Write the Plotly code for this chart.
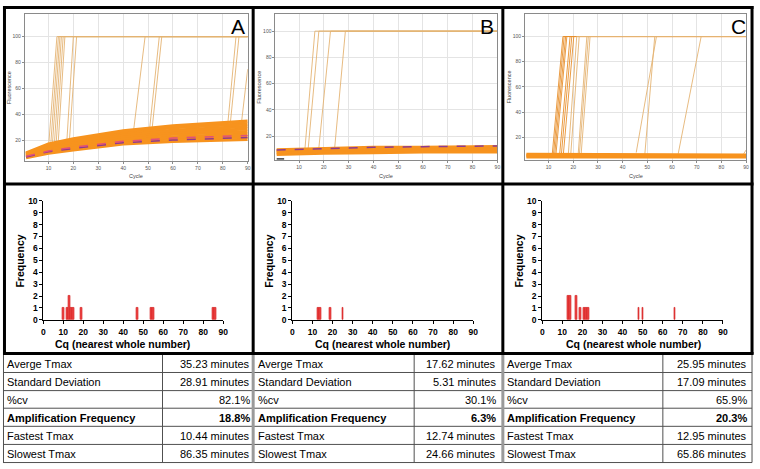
import plotly.graph_objects as go

W, H = 760, 469

# ---------------- data ----------------
cycles_band = [1, 10, 20, 40, 60, 90]

# Panel A: non-amplifying baseline curves (fluorescence at cycles_band)
A_band = [
    [7.0, 10.5, 13.0, 17.5, 19.5, 21.0],
    [7.5, 11.5, 14.5, 19.0, 21.5, 23.0],
    [8.0, 12.5, 15.5, 20.5, 23.0, 25.0],
    [8.5, 13.5, 17.0, 22.0, 25.0, 27.0],
    [9.0, 14.5, 18.0, 23.5, 26.5, 29.0],
    [9.5, 15.5, 19.5, 25.0, 28.0, 31.0],
    [10.0, 16.5, 20.5, 26.5, 30.0, 33.0],
    [10.5, 17.5, 21.5, 27.5, 31.5, 35.0],
]
A_band_dashed = [
    [7.5, 11.5, 14.0, 18.5, 20.5, 22.5],
    [8.0, 12.0, 15.0, 19.5, 22.0, 24.0],
]
A_amp_start = [10.0, 10.8, 11.5, 12.3, 13.0, 13.8, 17.3, 18.3, 44.0, 50.5, 51.5, 82.0, 83.0, 87.5]
A_amp_base = [14, 14, 15, 15, 15, 15, 17, 17, 25, 27, 27, 33, 33, 34]
A_amp_end = [13.4, 14.0, 14.6, 15.2, 15.9, 16.6, 20.0, 21.3, 48.8, 54.5, 55.5, 85.3, 86.5, 90.0]
A_amp_top = [100, 100, 100, 100, 100, 100, 100, 100, 100, 100, 100, 100, 100, 75]

# Panel B
B_band = [
    [6.0, 6.5, 7.0, 7.5, 8.0, 8.0],
    [7.0, 7.5, 8.0, 8.5, 9.0, 9.0],
    [8.0, 8.5, 9.0, 9.5, 10.0, 10.0],
    [9.0, 9.5, 10.0, 10.5, 11.0, 11.0],
    [9.5, 10.0, 10.5, 11.5, 11.5, 12.0],
]
B_band_dashed = [
    [9.5, 10.0, 10.5, 11.5, 12.0, 12.5],
]
B_amp_start = [12.4, 13.7, 18.0, 24.4]
B_amp_base = [10.5, 10.5, 11.0, 11.5]
B_amp_end = [16.4, 18.0, 22.7, 28.7]
B_amp_top = [100, 100, 100, 100]

# Panel C
C_band = [
    [4.5, 4.5, 4.5, 4.5, 4.5, 4.5],
    [5.5, 5.5, 5.5, 5.5, 5.5, 5.0],
    [6.5, 6.5, 6.5, 6.5, 6.5, 6.0],
]
C_band_dashed = []
C_amp_start = [11.5, 12.0, 12.5, 13.0, 14.5, 15.2, 16.0, 18.0, 19.0, 22.0, 22.5, 23.2, 49.0, 45.5, 62.5, 89.0]
C_amp_base = [7, 7, 7, 7, 7, 7, 7, 7, 7, 7, 7, 7, 7, 8, 7, 7]
C_amp_end = [15.8, 16.3, 16.9, 17.4, 18.7, 19.4, 20.2, 21.4, 22.4, 25.5, 26.1, 26.8, 53.0, 53.7, 71.8, 90.0]
C_amp_top = [100, 100, 100, 100, 100, 100, 100, 100, 100, 100, 100, 100, 100, 100, 100, 10]
C_amp_dark = [True, True, True, True, True, True, True, False, False, False, False, False, False, False, False, False]

# Histograms
A_cq = [10, 12, 13, 14, 15, 19, 47, 54, 55, 85, 86]
A_freq = [1, 1, 2, 1, 1, 1, 1, 1, 1, 1, 1]
B_cq = [13, 14, 19, 25]
B_freq = [1, 1, 1, 1]
C_cq = [13, 14, 17, 19, 21, 22, 23, 48, 50, 66]
C_freq = [2, 2, 2, 1, 1, 1, 1, 1, 1, 1]

hist_xticks = [0, 10, 20, 30, 40, 50, 60, 70, 80, 90]
hist_yticks = [0, 1, 2, 3, 4, 5, 6, 7, 8, 9, 10]
top_xticks = [10, 20, 30, 40, 50, 60, 70, 80, 90]
top_yticks = [20, 40, 60, 80, 100]

# Tables
row_labels = ["Averge Tmax", "Standard Deviation", "%cv", "Amplification Frequency",
              "Fastest Tmax", "Slowest Tmax"]
A_vals = ["35.23 minutes", "28.91 minutes", "82.1%", "18.8%", "10.44 minutes", "86.35 minutes"]
B_vals = ["17.62 minutes", "5.31 minutes", "30.1%", "6.3%", "12.74 minutes", "24.66 minutes"]
C_vals = ["25.95 minutes", "17.09 minutes", "65.9%", "20.3%", "12.95 minutes", "65.86 minutes"]
bold_row = 3
panel_letters = ["A", "B", "C"]

# ---------------- helpers ----------------
def PX(x):
    return x / W

def PY(y):
    return 1 - y / H

BAND = "#F7931E"
TAN = "#E4B373"
DARK_AMP = "#E8902C"
PURPLE = "#8E3A8E"
PINK = "#E0507A"
BAR = "#EE4B4B"
FONT = "Liberation Sans, Arial, sans-serif"

fig = go.Figure()

top_cfg = [
    dict(ax="", dom_x=(23, 248), dom_y=(9, 159), yr=(4.7, 117.5),
         band=A_band, dashed=A_band_dashed, dcol=[PURPLE, PINK],
         st=A_amp_start, bs=A_amp_base, en=A_amp_end, tp=A_amp_top, dark=None),
    dict(ax="2", dom_x=(276, 500), dom_y=(9, 158), yr=(2.1, 113.2),
         band=B_band, dashed=B_band_dashed, dcol=[PURPLE],
         st=B_amp_start, bs=B_amp_base, en=B_amp_end, tp=B_amp_top, dark=None),
    dict(ax="3", dom_x=(528, 751), dom_y=(9, 158), yr=(2.4, 118.0),
         band=C_band, dashed=C_band_dashed, dcol=[],
         st=C_amp_start, bs=C_amp_base, en=C_amp_end, tp=C_amp_top, dark=C_amp_dark),
]

layout_axes = {}
for i, c in enumerate(top_cfg):
    xa, ya = "x" + c["ax"], "y" + c["ax"]
    for k in range(len(c["st"])):
        xs = [c["st"][k], c["en"][k]]
        ys = [c["bs"][k], c["tp"][k]]
        if c["tp"][k] >= 100 and c["en"][k] < 90:
            xs.append(90)
            ys.append(100)
        col = TAN
        if c["dark"] is not None and c["dark"][k]:
            col = DARK_AMP
        fig.add_trace(go.Scatter(x=xs, y=ys, mode="lines", xaxis=xa, yaxis=ya,
                                 line=dict(color=col, width=0.9), hoverinfo="skip"))
    for row in c["band"]:
        fig.add_trace(go.Scatter(x=cycles_band, y=row, mode="lines", xaxis=xa, yaxis=ya,
                                 line=dict(color=BAND, width=3.2), hoverinfo="skip"))
    for j, row in enumerate(c["dashed"]):
        fig.add_trace(go.Scatter(x=cycles_band, y=row, mode="lines", xaxis=xa, yaxis=ya,
                                 line=dict(color=c["dcol"][j], width=1.5, dash="dash"),
                                 hoverinfo="skip"))
    axn = "xaxis" + c["ax"]
    ayn = "yaxis" + c["ax"]
    layout_axes[axn] = dict(
        domain=[PX(c["dom_x"][0]), PX(c["dom_x"][1])], range=[0.5, 90],
        anchor=ya, tickvals=top_xticks, showgrid=True, gridcolor="#E4E4E4", gridwidth=1,
        showline=True, linecolor="#8A8A8A", linewidth=1, mirror=True, zeroline=False,
        ticks="outside", ticklen=2, tickcolor="#8A8A8A",
        tickfont=dict(size=5, color="#555555", family=FONT),
    )
    layout_axes[ayn] = dict(
        domain=[PY(c["dom_y"][1]), PY(c["dom_y"][0])], range=list(c["yr"]),
        anchor=xa, tickvals=top_yticks, showgrid=True, gridcolor="#E4E4E4", gridwidth=1,
        showline=True, linecolor="#8A8A8A", linewidth=1, mirror=True, zeroline=False,
        ticks="outside", ticklen=2, tickcolor="#8A8A8A",
        tickfont=dict(size=5, color="#555555", family=FONT),
    )

# short dark line in B, bottom-left
fig.add_trace(go.Scatter(x=[1, 4], y=[2.6, 2.6], mode="lines", xaxis="x2", yaxis="y2",
                         line=dict(color="#222222", width=1.5), hoverinfo="skip"))

hist_cfg = [
    dict(ax="4", dom_x=(41.7, 223.3), cq=A_cq, fr=A_freq),
    dict(ax="5", dom_x=(293.0, 475.7), cq=B_cq, fr=B_freq),
    dict(ax="6", dom_x=(545.3, 727.7), cq=C_cq, fr=C_freq),
]
for c in hist_cfg:
    xa, ya = "x" + c["ax"], "y" + c["ax"]
    fig.add_trace(go.Bar(x=c["cq"], y=c["fr"], xaxis=xa, yaxis=ya, width=0.75,
                         marker=dict(color=BAR, line=dict(color="#D01818", width=0.6)),
                         hoverinfo="skip"))
    layout_axes["xaxis" + c["ax"]] = dict(
        domain=[PX(c["dom_x"][0]), PX(c["dom_x"][1])], range=[0, 90], anchor=ya,
        tickvals=hist_xticks, showgrid=False, zeroline=False, showline=True,
        linecolor="black", linewidth=1, ticks="outside", ticklen=3, tickwidth=1,
        tickcolor="black", ticklabelstandoff=1,
        tickfont=dict(size=8.5, color="black", family=FONT, weight="bold"),
    )
    layout_axes["yaxis" + c["ax"]] = dict(
        domain=[PY(321.7), PY(200)], range=[0, 10], anchor=xa,
        tickvals=hist_yticks, showgrid=False, zeroline=False, showline=True,
        linecolor="black", linewidth=1, ticks="outside", ticklen=3, tickwidth=1,
        tickcolor="black",
        tickfont=dict(size=8.5, color="black", family=FONT, weight="bold"),
    )

annotations = []
shapes = []

def ann(x, y, text, size, color="black", angle=0, xanchor="center"):
    annotations.append(dict(x=PX(x), y=PY(y), xref="paper", yref="paper", text=text,
                            showarrow=False, textangle=angle, xanchor=xanchor,
                            yanchor="middle",
                            font=dict(size=size, color=color, family=FONT)))

top_title_pos = [(7, 135), (260, 388), (512, 640)]
letter_pos = [238, 490, 743]
for i in range(3):
    fx, cx = top_title_pos[i]
    ann(fx, 84, "Fluorescence", 5.5, "#444444", -90)
    ann(cx, 175, "Cycle", 5.5, "#444444")
    ann(letter_pos[i], 22, panel_letters[i], 21)

freq_x = [18.3, 269.7, 522.0]
cq_x = [122.0, 384.0, 637.0]
for i in range(3):
    ann(freq_x[i], 262, "<b>Frequency</b>", 10.5, angle=-90)
    ann(cq_x[i], 346.5, "<b>Cq (nearest whole number)</b>", 10.5)

row_edges = [357, 375.5, 394, 412, 430.5, 449, 467.5]
tables = [
    dict(left=1, mid=162, right=253.5, vals=A_vals, vright=252),
    dict(left=253.5, mid=416, right=505.5, vals=B_vals, vright=501),
    dict(left=505.5, mid=667, right=757, vals=C_vals, vright=754),
]
GRID = "#505050"
for t in tables:
    for r in range(6):
        yc = (row_edges[r] + row_edges[r + 1]) / 2
        lab = row_labels[r]
        val = t["vals"][r]
        if r == bold_row:
            lab = "<b>" + lab + "</b>"
            val = "<b>" + val + "</b>"
        ann(t["left"] + 2.5, yc + 0.5, lab, 11, xanchor="left")
        ann(t["vright"], yc + 0.5, val, 11, xanchor="right")
    for ye in row_edges[1:]:
        shapes.append(dict(type="line", xref="paper", yref="paper",
                           x0=PX(t["left"]), x1=PX(t["right"]), y0=PY(ye), y1=PY(ye),
                           line=dict(color=GRID, width=1)))
    shapes.append(dict(type="line", xref="paper", yref="paper",
                       x0=PX(t["mid"]), x1=PX(t["mid"]), y0=PY(357), y1=PY(467.5),
                       line=dict(color=GRID, width=1)))

for xv, col, wd in [(1.5, GRID, 1), (253.5, "#9A9A9A", 3), (505.5, "#9A9A9A", 3),
                    (757, GRID, 1)]:
    shapes.append(dict(type="line", xref="paper", yref="paper",
                       x0=PX(xv), x1=PX(xv), y0=PY(357), y1=PY(467.5),
                       line=dict(color=col, width=wd)))

frame = [
    (1, 2.5, 758.5, 2.5), (1, 183, 758.5, 183), (1, 356, 758.5, 356),
    (2.5, 1, 2.5, 357), (253.5, 1, 253.5, 357), (505.5, 1, 505.5, 357),
    (757, 1, 757, 357),
]
for x0, y0, x1, y1 in frame:
    shapes.append(dict(type="line", xref="paper", yref="paper",
                       x0=PX(x0), x1=PX(x1), y0=PY(y0), y1=PY(y1),
                       line=dict(color="black", width=3)))

fig.update_layout(
    width=W, height=H, margin=dict(l=0, r=0, t=0, b=0),
    paper_bgcolor="white", plot_bgcolor="white", showlegend=False,
    font=dict(family=FONT), bargap=0, annotations=annotations, shapes=shapes,
    **layout_axes,
)

fig.write_html(
    "out.html",
    config={"displayModeBar": False},
    post_script="document.body.style.margin='0';document.body.style.padding='0';"
                "document.body.style.overflow='hidden';",
)
